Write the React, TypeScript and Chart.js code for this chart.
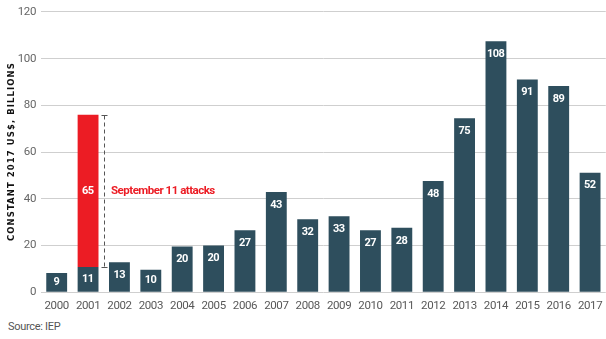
import React, { useEffect, useRef } from "react";
import { Chart, registerables } from "chart.js";

Chart.register(...registerables);

const years = ["2000", "2001", "2002", "2003", "2004", "2005", "2006", "2007", "2008", "2009", "2010", "2011", "2012", "2013", "2014", "2015", "2016", "2017"];
const baseValues = [8.3, 10.8, 12.9, 9.7, 19.6, 20.0, 26.6, 42.9, 31.3, 32.5, 26.6, 27.6, 47.6, 74.5, 107.4, 91.1, 88.3, 51.2];
const baseLabels = ["9", "11", "13", "10", "20", "20", "27", "43", "32", "33", "27", "28", "48", "75", "108", "91", "89", "52"];
const attackValues = [null, 65.2, null, null, null, null, null, null, null, null, null, null, null, null, null, null, null, null];
const attackLabels = ["", "65", "", "", "", "", "", "", "", "", "", "", "", "", "", "", "", ""];
const yTicks = [0, 20, 40, 60, 80, 100, 120];
const annotationText = "September 11 attacks";
const annotationIndex = 1;
const axisTitle = "CONSTANT 2017 US$, BILLIONS";
const sourceText = "Source: IEP";

const FONT = "Roboto, 'Noto Sans', sans-serif";
const BAR = "#2e4e5d";
const RED = "#ec1c24";

const spacingPlugin = {
  id: "spacing",
  beforeDraw(chart: any) {
    (chart.ctx as any).letterSpacing = "-0.4px";
  },
};

const labelPlugin = {
  id: "valueLabels",
  afterDatasetsDraw(chart: any) {
    const ctx = chart.ctx;
    ctx.save();
    ctx.letterSpacing = "-0.5px";
    ctx.font = `bold 11px ${FONT}`;
    ctx.fillStyle = "#ffffff";
    ctx.textAlign = "center";
    ctx.textBaseline = "middle";
    const m0 = chart.getDatasetMeta(0);
    m0.data.forEach((el: any, i: number) => {
      const y = Math.min(el.y + 13, (el.y + el.base) / 2);
      ctx.fillText(baseLabels[i], el.x - 0.25, y);
    });
    const m1 = chart.getDatasetMeta(1);
    m1.data.forEach((el: any, i: number) => {
      if (attackValues[i] == null) return;
      ctx.fillText(attackLabels[i], el.x - 0.25, (el.y + el.base) / 2);
    });

    // bracket annotation
    const xs = chart.scales.x;
    const ys = chart.scales.y;
    const lx = Math.round((xs.getPixelForValue(annotationIndex) + xs.getPixelForValue(annotationIndex + 1)) / 2) + 0.5;
    const topV = (baseValues[annotationIndex] as number) + (attackValues[annotationIndex] as number);
    const botV = baseValues[annotationIndex] as number;
    const yTop = Math.round(ys.getPixelForValue(topV)) + 0.5;
    const yBot = Math.round(ys.getPixelForValue(botV)) + 0.5;
    ctx.strokeStyle = "#555555";
    ctx.lineWidth = 1;
    ctx.setLineDash([4, 3]);
    ctx.beginPath();
    ctx.moveTo(lx, yTop);
    ctx.lineTo(lx, yBot);
    ctx.stroke();
    ctx.setLineDash([]);
    ctx.beginPath();
    ctx.moveTo(lx - 3, yTop);
    ctx.lineTo(lx + 3, yTop);
    ctx.moveTo(lx - 3, yBot);
    ctx.lineTo(lx + 3, yBot);
    ctx.stroke();
    ctx.font = `bold 11.5px ${FONT}`;
    ctx.letterSpacing = "-0.5px";
    ctx.fillStyle = RED;
    ctx.textAlign = "left";
    ctx.fillText(annotationText, lx + 6.5, (yTop + yBot) / 2);

    // axis title
    const area = chart.chartArea;
    ctx.font = `bold 8.5px 'DejaVu Sans', sans-serif`;
    ctx.letterSpacing = "0px";
    const w = ctx.measureText(axisTitle).width;
    const target = 178;
    const sp = (target - w) / (axisTitle.length - 1);
    ctx.letterSpacing = `${sp}px`;
    ctx.fillStyle = "#111111";
    ctx.textAlign = "center";
    ctx.translate(12, (area.top + area.bottom) / 2);
    ctx.rotate(-Math.PI / 2);
    ctx.fillText(axisTitle, sp / 2, 0);
    ctx.restore();
  },
  afterDraw(chart: any) {
    (chart.ctx as any).letterSpacing = "0px";
  },
};

export default function App() {
  const ref = useRef<HTMLCanvasElement>(null);
  useEffect(() => {
    if (!ref.current) return;
    Chart.defaults.font.family = FONT;
    const chart = new Chart(ref.current, {
      type: "bar",
      data: {
        labels: years,
        datasets: [
          { data: baseValues, backgroundColor: BAR, barPercentage: 0.665, categoryPercentage: 1 },
          { data: attackValues as any, backgroundColor: RED, barPercentage: 0.665, categoryPercentage: 1 },
        ],
      },
      options: {
        responsive: false,
        animation: false,
        devicePixelRatio: 1,
        layout: { padding: { top: 8, bottom: 3.7, left: 0, right: 0 } },
        plugins: { legend: { display: false }, tooltip: { enabled: false } },
        scales: {
          x: {
            stacked: true,
            grid: { display: false, drawTicks: false },
            border: { display: false },
            ticks: { color: "#585858", font: { size: 11.5, family: FONT }, padding: 7, maxRotation: 0, minRotation: 0, autoSkip: false },
            afterFit: (s: any) => { s.height = 20; },
          },
          y: {
            stacked: true,
            min: 0,
            max: 120,
            afterBuildTicks: (s: any) => { s.ticks = yTicks.map((v) => ({ value: v })); },
            grid: { color: "#cfcfcf", drawTicks: false },
            border: { display: false },
            ticks: { color: "#666666", font: { size: 11.5, family: FONT }, padding: 5 },
            title: { display: false },
            afterFit: (s: any) => { s.width = 41; },
          },
        },
      },
      plugins: [spacingPlugin, labelPlugin],
    });
    return () => chart.destroy();
  }, []);
  return (
    <div style={{ position: "absolute", left: 0, top: 0, width: 606, height: 339, overflow: "hidden", background: "#fff" }}>
      <canvas ref={ref} width={610} height={316} style={{ display: "block", width: 610, height: 316 }} />
      <div style={{ position: "absolute", left: 8, top: 320, font: `11px ${FONT}`, letterSpacing: "-0.3px", color: "#555555" }}>{sourceText}</div>
    </div>
  );
}
